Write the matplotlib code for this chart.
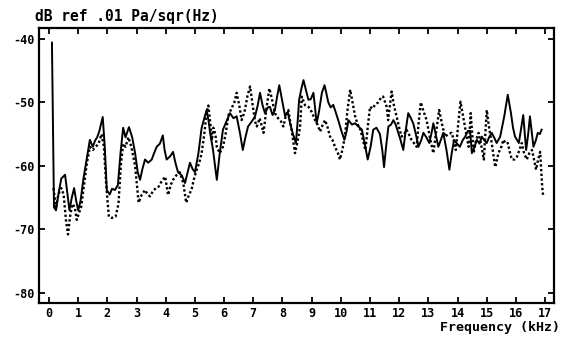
import matplotlib
matplotlib.use("Agg")
import matplotlib.pyplot as plt

# Spectrum A (solid trace): frequency in kHz, level in dB re .01 Pa/sqrt(Hz)
freq_a = [0.10, 0.17, 0.24, 0.32, 0.42, 0.55, 0.62, 0.70, 0.78, 0.86, 0.93, 1.00, 1.08, 1.18, 1.29,
          1.40, 1.50, 1.58, 1.65, 1.72, 1.84, 1.91, 1.98, 2.08, 2.16, 2.26, 2.36, 2.45, 2.54, 2.62,
          2.74, 2.85, 2.95, 3.04, 3.12, 3.20, 3.29, 3.40, 3.52, 3.60, 3.69, 3.80, 3.90, 3.96, 4.03,
          4.15, 4.25, 4.33, 4.42, 4.55, 4.66, 4.75, 4.83, 4.92, 5.00, 5.12, 5.23, 5.32, 5.40, 5.47,
          5.52, 5.62, 5.69, 5.75, 5.85, 5.96, 6.08, 6.20, 6.32, 6.43, 6.55, 6.64, 6.73, 6.82, 6.95,
          7.06, 7.15, 7.23, 7.32, 7.40, 7.50, 7.57, 7.66, 7.74, 7.82, 7.89, 8.00, 8.09, 8.18, 8.26,
          8.36, 8.46, 8.52, 8.57, 8.65, 8.72, 8.80, 8.89, 8.97, 9.06, 9.12, 9.17, 9.25, 9.35, 9.44,
          9.50, 9.57, 9.65, 9.74, 9.82, 9.91, 10.02, 10.12, 10.20, 10.26, 10.38, 10.49, 10.60, 10.72,
          10.82, 10.92, 11.02, 11.11, 11.22, 11.34, 11.42, 11.48, 11.55, 11.63, 11.72, 11.80, 11.88,
          11.97, 12.05, 12.14, 12.22, 12.31, 12.40, 12.48, 12.57, 12.66, 12.75, 12.83, 12.93, 13.03,
          13.10, 13.17, 13.25, 13.34, 13.42, 13.51, 13.62, 13.72, 13.80, 13.88, 13.98, 14.08, 14.17,
          14.26, 14.35, 14.43, 14.49, 14.58, 14.66, 14.75, 14.83, 14.92, 15.00, 15.08, 15.17, 15.25,
          15.34, 15.46, 15.60, 15.72, 15.83, 15.90, 15.97, 16.10, 16.18, 16.25, 16.35, 16.42, 16.48,
          16.55, 16.60, 16.68, 16.75, 16.82, 16.88]
level_a = [-40.6, -66.5, -67.0, -64.5, -62.0, -61.4, -64.0, -67.0, -65.0, -63.5, -65.5, -67.0, -65.5, -62.0, -59.0,
           -55.9, -57.0, -56.0, -55.5, -54.6, -52.3, -57.0, -63.8, -64.5, -63.6, -63.8, -63.0, -58.0, -54.0, -55.5,
           -53.9, -55.5, -58.0, -61.0, -62.2, -60.5, -59.0, -59.5, -59.0, -58.0, -57.0, -56.5, -55.2, -57.5, -59.0,
           -58.5, -57.8, -59.5, -61.0, -61.5, -62.7, -61.0, -59.5, -60.5, -61.0, -58.0, -54.0, -52.5, -51.2, -53.0,
           -54.8, -57.5, -60.0, -62.2, -58.0, -54.3, -53.0, -51.7, -52.5, -52.2, -55.0, -57.5, -55.5, -53.8, -53.0,
           -52.2, -50.5, -48.5, -50.5, -51.7, -50.8, -50.7, -52.0, -51.2, -49.0, -47.3, -50.0, -52.2, -51.5, -53.3,
           -55.0, -56.4, -53.0, -49.6, -47.8, -46.5, -48.0, -49.6, -49.5, -48.5, -51.0, -53.3, -51.5, -48.5, -47.3,
           -48.5, -50.0, -50.8, -50.4, -51.5, -52.8, -54.5, -55.9, -54.5, -52.8, -53.5, -53.3, -53.8, -54.3,
           -56.5, -59.0, -57.0, -54.3, -54.0, -55.0, -57.5, -60.2, -57.0, -53.8, -53.5, -52.8, -53.5,
           -54.8, -56.0, -57.5, -54.5, -51.7, -52.5, -53.3, -55.0, -57.0, -56.0, -54.8, -55.5, -56.4,
           -55.0, -53.3, -55.0, -57.0, -56.0, -54.8, -57.5, -60.6, -58.0, -55.9, -56.5, -57.0, -56.0,
           -55.4, -54.5, -54.5, -58.0, -57.0, -55.9, -56.5, -55.4, -56.0, -56.4, -55.5, -54.8, -55.5,
           -56.4, -55.4, -52.2, -48.8, -51.7, -54.0, -55.4, -56.4, -54.0, -52.0, -57.5, -55.0, -52.2,
           -55.0, -57.0, -56.0, -54.8, -55.0, -54.3]

# Spectrum B (dotted trace)
freq_b = [0.15, 0.24, 0.32, 0.42, 0.50, 0.58, 0.65, 0.72, 0.80, 0.88, 0.95, 1.02, 1.10, 1.20, 1.30,
          1.40, 1.50, 1.60, 1.70, 1.80, 1.88, 1.96, 2.05, 2.15, 2.28, 2.38, 2.46, 2.54, 2.62, 2.72,
          2.82, 2.95, 3.07, 3.18, 3.29, 3.38, 3.46, 3.56, 3.66, 3.75, 3.85, 3.98, 4.08, 4.17, 4.25,
          4.36, 4.48, 4.60, 4.70, 4.80, 4.88, 4.97, 5.06, 5.15, 5.23, 5.32, 5.40, 5.46, 5.52, 5.58,
          5.63, 5.70, 5.75, 5.85, 5.96, 6.05, 6.15, 6.25, 6.35, 6.43, 6.52, 6.60, 6.70, 6.80, 6.89,
          6.98, 7.06, 7.12, 7.22, 7.35, 7.45, 7.55, 7.64, 7.74, 7.85, 7.95, 8.03, 8.12, 8.20, 8.30,
          8.43, 8.50, 8.60, 8.66, 8.78, 8.89, 9.00, 9.12, 9.20, 9.29, 9.38, 9.46, 9.55, 9.63, 9.72,
          9.80, 9.90, 9.97, 10.05, 10.14, 10.22, 10.32, 10.40, 10.49, 10.58, 10.67, 10.76, 10.84,
          10.92, 11.00, 11.08, 11.17, 11.28, 11.40, 11.45, 11.57, 11.62, 11.68, 11.74, 11.82, 11.91,
          12.00, 12.08, 12.17, 12.25, 12.33, 12.42, 12.52, 12.60, 12.66, 12.74, 12.84, 12.94, 13.05,
          13.17, 13.27, 13.37, 13.47, 13.57, 13.68, 13.80, 13.87, 13.94, 14.02, 14.10, 14.20, 14.29,
          14.38, 14.45, 14.55, 14.63, 14.72, 14.82, 14.90, 15.00, 15.08, 15.17, 15.29, 15.40, 15.50,
          15.57, 15.65, 15.72, 15.80, 15.86, 15.95, 16.03, 16.12, 16.20, 16.28, 16.37, 16.46, 16.55,
          16.62, 16.69, 16.76, 16.83, 16.90, 16.93]
level_b = [-63.5, -66.5, -64.5, -63.5, -64.5, -68.5, -70.8, -68.0, -66.0, -66.5, -68.5, -67.5, -66.5, -63.0, -59.5,
           -57.0, -57.5, -57.0, -56.5, -55.0, -57.0, -63.0, -68.0, -68.2, -68.0, -66.0, -60.0, -56.5, -57.0, -55.5,
           -57.0, -60.0, -65.8, -64.5, -63.8, -64.5, -64.8, -64.0, -63.5, -63.3, -62.5, -61.7, -64.6, -63.0, -62.2,
           -61.5, -61.0, -62.7, -65.8, -64.5, -63.8, -62.0, -60.6, -59.5, -58.0, -55.0, -51.6, -50.5, -53.0, -56.0,
           -54.0, -55.0, -57.0, -58.0, -57.0, -55.0, -52.0, -51.0, -50.0, -48.5, -50.5, -52.8, -51.5, -49.0, -47.5,
           -50.5, -53.0, -53.8, -52.5, -54.8, -51.0, -47.8, -49.5, -51.7, -52.5, -53.0, -53.8, -52.0, -51.2, -54.0,
           -58.0, -56.5, -54.0, -49.1, -50.5, -50.7, -51.5, -52.8, -53.5, -54.6, -53.5, -52.8, -54.0, -55.4, -56.0,
           -57.0, -58.0, -59.0, -57.5, -55.4, -51.5, -48.0, -50.0, -52.2, -53.5, -54.3, -56.0, -57.5,
           -54.0, -50.7, -51.0, -50.4, -50.0, -49.1, -49.1, -50.7, -52.8, -50.5, -48.3, -50.5, -52.2,
           -54.0, -55.4, -55.0, -54.3, -55.0, -55.9, -56.5, -57.0, -53.5, -50.0, -51.5, -52.8, -55.5,
           -58.0, -54.5, -51.2, -53.5, -55.4, -55.0, -54.8, -56.0, -57.5, -53.5, -49.9, -52.5, -54.8,
           -57.0, -51.7, -58.0, -56.0, -54.8, -57.0, -59.0, -51.2, -54.0, -56.4, -60.2, -58.0, -57.0,
           -55.9, -56.5, -56.4, -58.0, -59.0, -59.0, -58.6, -57.5, -56.4, -58.0, -59.0, -58.0, -57.5,
           -59.0, -60.6, -59.0, -57.8, -63.3, -64.6]

x_ticks = list(range(0, 18))
y_ticks = [-80, -70, -60, -50, -40]

plt.rcParams["font.family"] = "DejaVu Sans Mono"
plt.rcParams["font.weight"] = "bold"

fig = plt.figure(figsize=(5.63, 3.44), dpi=100)
ax = fig.add_axes([0.0693, 0.119, 0.915, 0.7995])

ax.plot(freq_a, level_a, color="black", lw=1.4, solid_joinstyle="round")
ax.plot(freq_b, level_b, color="black", lw=1.7, linestyle=(0, (1.0, 1.0)))

ax.set_xlim(-0.343, 17.31)
ax.set_ylim(-81.6, -38.3)
ax.set_xticks(x_ticks)
ax.set_yticks(y_ticks)
ax.set_xticklabels([str(t) for t in x_ticks], fontsize=8.5, fontweight="bold")
ax.set_yticklabels([str(t) for t in y_ticks], fontsize=8.5, fontweight="bold")
ax.tick_params(axis="both", which="both", direction="in", length=4, width=1.3,
               top=True, right=True)
ax.tick_params(axis="x", pad=3)
ax.tick_params(axis="y", pad=3)
for sp in ax.spines.values():
    sp.set_linewidth(1.6)

fig.text(35 / 563, 1 - 17 / 344, "dB ref .01 Pa/sqr(Hz)", ha="left", va="center",
         fontsize=10.5, fontweight="bold")
fig.text(560 / 563, 1 - 328 / 344, "Frequency (kHz)", ha="right", va="center",
         fontsize=9.5, fontweight="bold")

fig.savefig("out.png", dpi=100, facecolor="white")
